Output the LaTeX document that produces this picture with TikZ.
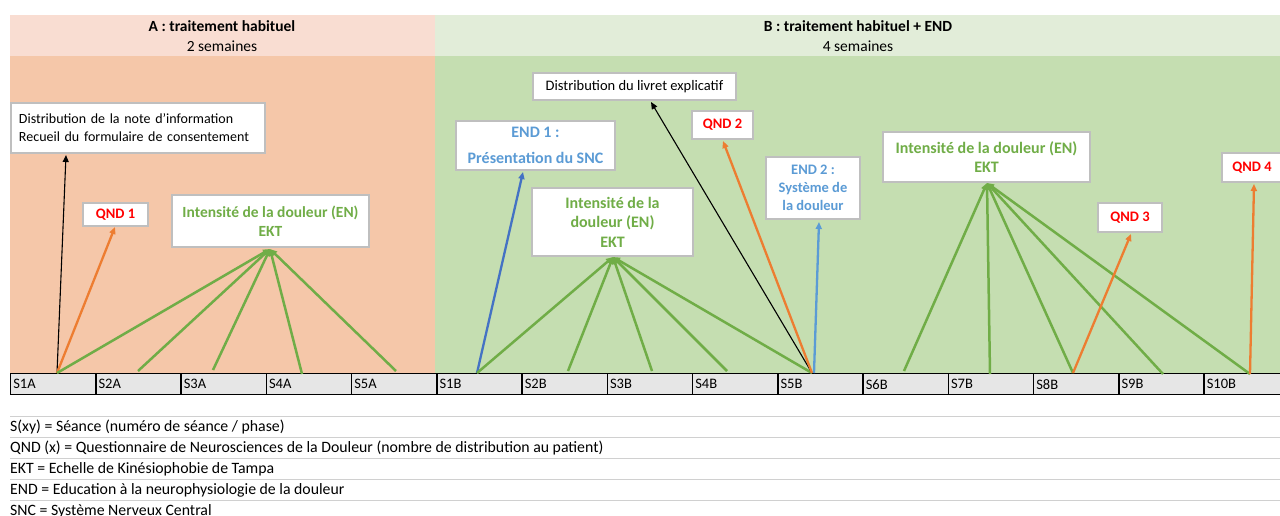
\documentclass[tikz,border=0pt]{standalone}
\usepackage{fontspec}
\setmainfont{Carlito}
\usetikzlibrary{arrows.meta}
\definecolor{hdrA}{HTML}{F9DDD2}
\definecolor{bodyA}{HTML}{F5C7A9}
\definecolor{hdrB}{HTML}{E2EDD9}
\definecolor{bodyB}{HTML}{C5DEB1}
\definecolor{grn}{HTML}{70AD47}
\definecolor{org}{HTML}{ED7D31}
\definecolor{dblue}{HTML}{4472C4}
\definecolor{lblue}{HTML}{5B9BD5}
\definecolor{qred}{HTML}{FF0000}
\definecolor{cellg}{HTML}{E6E6E6}
\definecolor{boxg}{HTML}{BFBFBF}
\definecolor{sepg}{HTML}{D0D0D0}
\begin{document}
\begin{tikzpicture}[x=1pt,y=-1pt,
  font=\fontsize{14}{18}\selectfont,
  box/.style={draw=boxg,line width=1.2pt,fill=white,inner sep=0pt,align=center},
  tbox/.style={box,font=\fontsize{16}{19.5}\selectfont\bfseries},
  qbox/.style={box,text=qred,font=\fontsize{14.5}{17}\selectfont\bfseries},
  cell/.style={draw=black,line width=1.3pt,fill=cellg,inner ysep=0pt,inner xsep=2.6pt,text width=80pt,minimum height=21pt,align=left,anchor=north west,font=\fontsize{14.5}{17}\selectfont},
  tip/.style={-{Triangle[length=7pt,width=6pt]}},
  garr/.style={tip,draw=grn,line width=2.5pt},
  oarr/.style={tip,draw=org,line width=2.3pt},
  karr/.style={tip,draw=black,line width=1.1pt},
  barr/.style={tip,draw=dblue,line width=2.3pt},
  larr/.style={tip,draw=lblue,line width=2.3pt},
  sepl/.style={draw=sepg,line width=1pt},
  leg/.style={anchor=west,inner sep=0pt,font=\fontsize{15.8}{18}\selectfont}
]
\useasboundingbox (0,0) rectangle (1280,515);
% backgrounds
\fill[hdrA] (10,15) rectangle (435,56);
\fill[hdrB] (435,15) rectangle (1280,56);
\fill[bodyA] (10,56) rectangle (435,373);
\fill[bodyB] (435,56) rectangle (1280,373);
\node[font=\fontsize{15.5}{17}\selectfont\bfseries] (tA) at (222,26) {A : traitement habituel};
\node[font=\fontsize{15.5}{17}\selectfont] (sA) at (222,46) {2 semaines};
\node[font=\fontsize{15.5}{17}\selectfont\bfseries] (tB) at (858,26) {B : traitement habituel + END};
\node[font=\fontsize{15.5}{17}\selectfont] (sB) at (858,46) {4 semaines};
% session cells
\foreach \lab [count=\i from 0] in {S1A,S2A,S3A,S4A,S5A,S1B,S2B,S3B,S4B,S5B,S6B,S7B,S8B,S9B,S10B}
  \node[cell] (c\lab) at (10+\i*85.25,373) {\lab};
% boxes
\node[box,text width=238pt,minimum height=50pt,align=left,inner xsep=8pt] (info) at (138,128)
  {Distribution de la note d'information\\Recueil du formulaire de consentement};
\node[qbox,minimum width=65pt,minimum height=23pt] (qnd1) at (115.5,214.5) {QND 1};
\node[tbox,text=grn,minimum width=197pt,minimum height=52pt,font=\fontsize{15.5}{19}\selectfont\bfseries] (ekA) at (270.5,221) {Intensité de la douleur (EN)\\EKT};
\node[box,minimum width=203pt,minimum height=27pt,font=\fontsize{14.5}{17}\selectfont] (livret) at (634.5,86.5) {Distribution du livret explicatif};
\node[tbox,text=lblue,minimum width=159pt,minimum height=49pt] (end1) at (535.5,145.5) {END 1 :\\[6pt]Présentation du SNC};
\node[qbox,minimum width=61pt,minimum height=28pt] (qnd2) at (722.5,125) {QND 2};
\node[tbox,text=grn,minimum width=161pt,minimum height=68pt] (ekB1) at (612.5,222) {Intensité de la\\douleur (EN)\\EKT};
\node[tbox,text=lblue,minimum width=94pt,minimum height=62pt,font=\fontsize{14.5}{18}\selectfont\bfseries] (end2) at (813,188) {END 2 :\\Système de\\la douleur};
\node[tbox,text=grn,minimum width=207pt,minimum height=50pt] (ekB2) at (986.5,157) {Intensité de la douleur (EN)\\EKT};
\node[qbox,minimum width=64pt,minimum height=29pt] (qnd3) at (1130,217.5) {QND 3};
\node[qbox,minimum width=60pt,minimum height=29pt] (qnd4) at (1252,167.5) {QND 4};
% connector end points
\coordinate (p1A) at (57,373);
\coordinate (p2A) at (138,371);
\coordinate (p3A) at (213,370);
\coordinate (p4A) at (302,374);
\coordinate (p5A) at (396,371);
\coordinate (p1B) at (477,373);
\coordinate (p2B) at (568,371);
\coordinate (p3B) at (652,371);
\coordinate (p4B) at (727,371);
\coordinate (p5B) at (812,373);
\coordinate (q5B) at (814,373);
\coordinate (p6B) at (904,371);
\coordinate (p7B) at (990,374);
\coordinate (p8B) at (1073,373);
\coordinate (p9B) at (1163,374);
\coordinate (p10B) at (1250,374);
\coordinate (tInfo) at (66,155);
\coordinate (tQ1) at (115,227);
\coordinate (tEkA) at (270,249);
\coordinate (tEnd1) at (523,172);
\coordinate (tEkB1) at (613,257);
\coordinate (tLiv) at (651,102);
\coordinate (tQ2) at (723,141);
\coordinate (tEnd2) at (819,222);
\coordinate (tEkB2) at (987,183);
\coordinate (tQ3) at (1131,234);
\coordinate (tQ4) at (1254,184);
% phase A connectors
\draw[karr] (p1A) -- (tInfo);
\draw[oarr] (p1A) -- (tQ1);
\foreach \p in {p1A,p2A,p3A,p4A,p5A} \draw[garr] (\p) -- (tEkA);
% phase B connectors
\draw[barr] (p1B) -- (tEnd1);
\foreach \p in {p1B,p2B,p3B,p4B,p5B} \draw[garr] (\p) -- (tEkB1);
\draw[karr] (p5B) -- (tLiv);
\draw[oarr] (p5B) -- (tQ2);
\draw[larr] (q5B) -- (tEnd2);
\foreach \p in {p6B,p7B,p8B,p9B,p10B} \draw[garr] (\p) -- (tEkB2);
\draw[oarr] (p8B) -- (tQ3);
\draw[oarr] (p10B) -- (tQ4);
% legend
\foreach \y in {416,437,458,479,500} \draw[sepl] (10,\y) -- (1280,\y);
\node[leg] (l1) at (10,427) {S(xy) = Séance (numéro de séance / phase)};
\node[leg] (l2) at (10,448) {QND (x) = Questionnaire de Neurosciences de la Douleur (nombre de distribution au patient)};
\node[leg] (l3) at (10,469) {EKT = Echelle de Kinésiophobie de Tampa};
\node[leg] (l4) at (10,490) {END = Education à la neurophysiologie de la douleur};
\node[leg] (l5) at (10,511) {SNC = Système Nerveux Central};
\end{tikzpicture}
\end{document}
